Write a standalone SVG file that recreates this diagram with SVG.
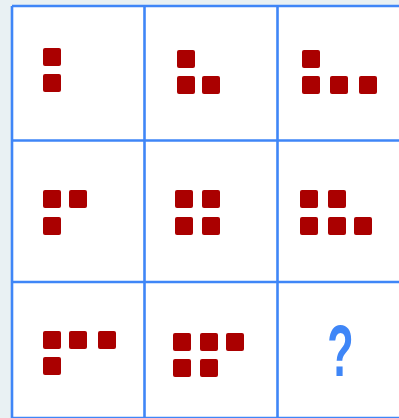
<svg xmlns="http://www.w3.org/2000/svg" width="399" height="418" viewBox="0 0 399 418">
<style>
.sq{fill:#aa0000;}
.grid{stroke:#3f86f7;stroke-width:2.6;fill:none;}
.q{fill:#3f86f7;font-family:"Liberation Sans",Arial,sans-serif;font-size:72px;font-weight:bold;}
</style>
<defs>
<rect id="s" width="18" height="18" rx="2" class="sq"/>
</defs>
<rect x="0" y="0" width="399" height="418" fill="#e9f1f3"/>
<rect x="12" y="6" width="400" height="420" fill="#ffffff"/>
<g id="grid" class="grid">
<line x1="12" y1="6" x2="12" y2="418"/>
<line x1="144.5" y1="6" x2="144.5" y2="418"/>
<line x1="277.5" y1="6" x2="277.5" y2="418"/>
<line x1="12" y1="6" x2="399" y2="6"/>
<line x1="12" y1="140.5" x2="399" y2="140.5"/>
<line x1="12" y1="282" x2="399" y2="282"/>
<line x1="12" y1="418" x2="399" y2="418"/>
</g>
<g id="cell-1-1">
<use href="#s" x="43" y="48"/><use href="#s" x="43" y="74"/>
</g>
<g id="cell-1-2">
<use href="#s" x="177" y="50"/><use href="#s" x="177" y="76"/><use href="#s" x="202" y="76"/>
</g>
<g id="cell-1-3">
<use href="#s" x="302" y="50"/><use href="#s" x="302" y="76"/><use href="#s" x="330" y="76"/><use href="#s" x="359" y="76"/>
</g>
<g id="cell-2-1">
<use href="#s" x="43" y="190"/><use href="#s" x="69" y="190"/><use href="#s" x="43" y="217"/>
</g>
<g id="cell-2-2">
<use href="#s" x="175" y="190"/><use href="#s" x="202" y="190"/><use href="#s" x="175" y="217"/><use href="#s" x="202" y="217"/>
</g>
<g id="cell-2-3">
<use href="#s" x="300" y="190"/><use href="#s" x="328" y="190"/><use href="#s" x="300" y="217"/><use href="#s" x="328" y="217"/><use href="#s" x="354" y="217"/>
</g>
<g id="cell-3-1">
<use href="#s" x="43" y="331"/><use href="#s" x="69" y="331"/><use href="#s" x="98" y="331"/><use href="#s" x="43" y="357"/>
</g>
<g id="cell-3-2">
<use href="#s" x="173" y="333"/><use href="#s" x="200" y="333"/><use href="#s" x="226" y="333"/><use href="#s" x="173" y="359"/><use href="#s" x="200" y="359"/>
</g>
<g id="cell-3-3">
<text class="q" transform="translate(340.5,376) scale(0.6,1)" text-anchor="middle">?</text>
</g>
</svg>
